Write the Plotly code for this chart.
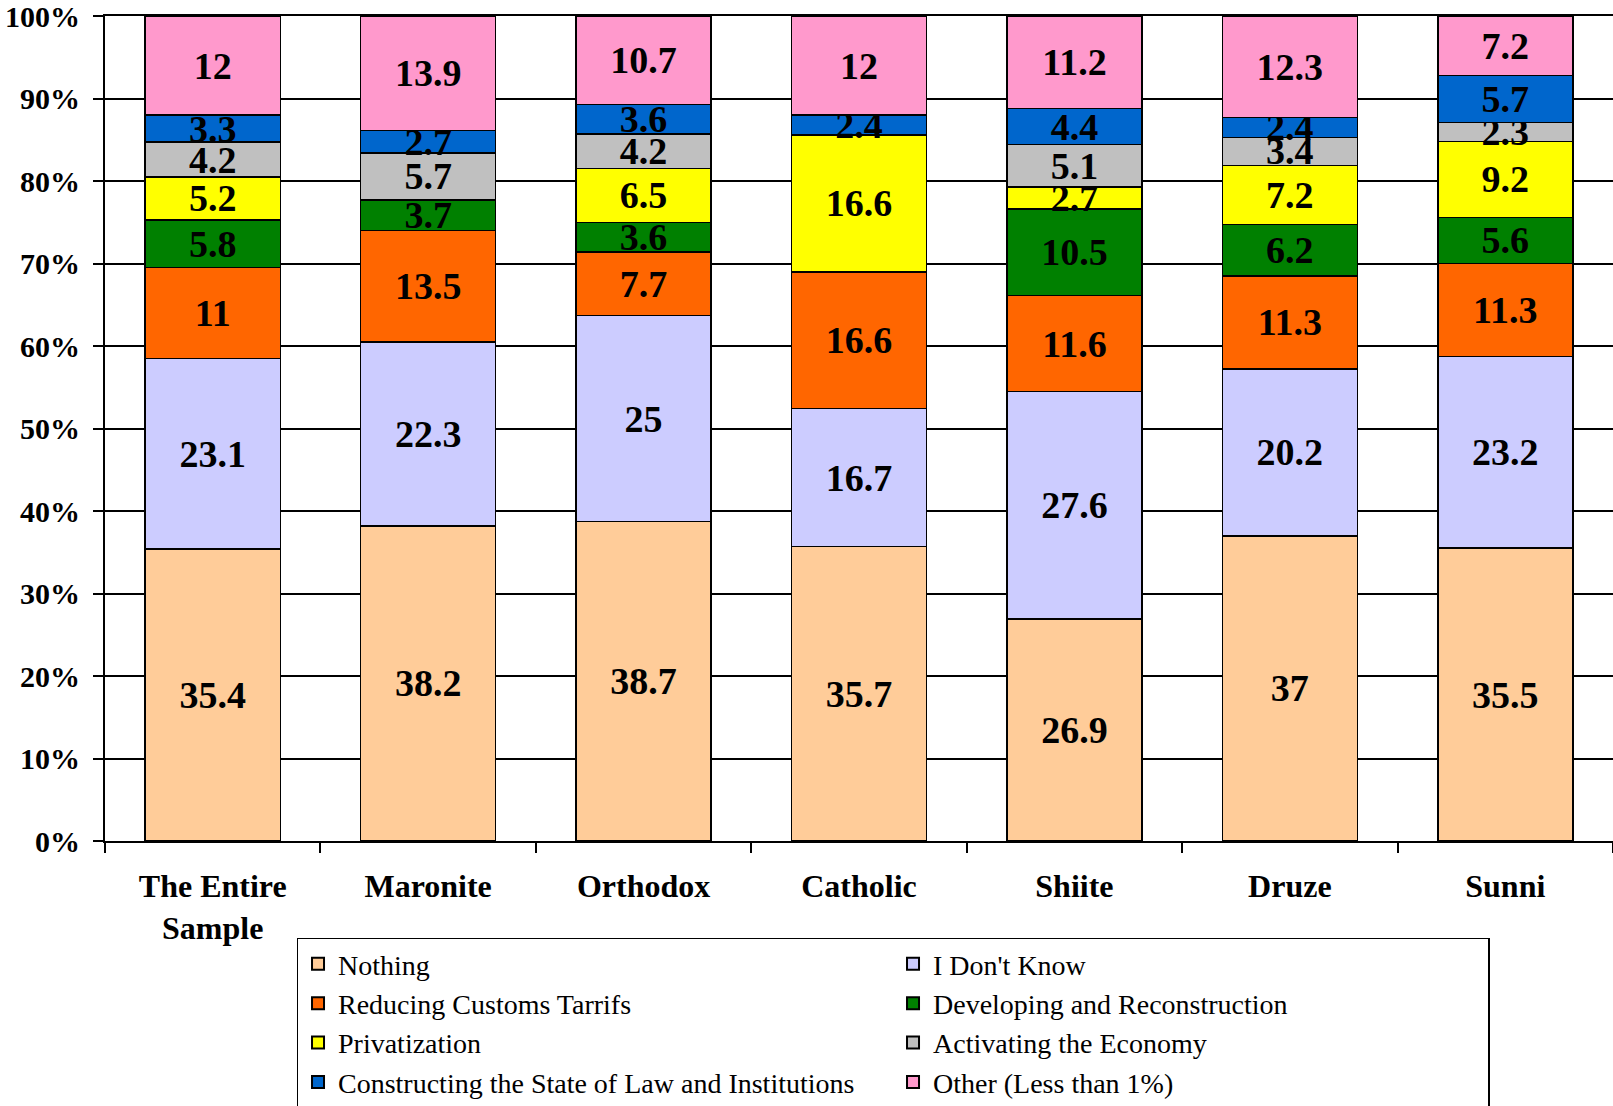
import plotly.graph_objects as go

categories = ["The Entire<br>Sample", "Maronite", "Orthodox", "Catholic", "Shiite", "Druze", "Sunni"]

series_names = [
    "Nothing",
    "I Don't Know",
    "Reducing Customs Tarrifs",
    "Developing and Reconstruction",
    "Privatization",
    "Activating the Economy",
    "Constructing the State of Law and Institutions",
    "Other (Less than 1%)",
]

nothing = [35.4, 38.2, 38.7, 35.7, 26.9, 37, 35.5]
dont_know = [23.1, 22.3, 25, 16.7, 27.6, 20.2, 23.2]
reducing_customs = [11, 13.5, 7.7, 16.6, 11.6, 11.3, 11.3]
developing = [5.8, 3.7, 3.6, 0, 10.5, 6.2, 5.6]
privatization = [5.2, 0, 6.5, 16.6, 2.7, 7.2, 9.2]
activating = [4.2, 5.7, 4.2, 0, 5.1, 3.4, 2.3]
constructing = [3.3, 2.7, 3.6, 2.4, 4.4, 2.4, 5.7]
other = [12, 13.9, 10.7, 12, 11.2, 12.3, 7.2]

series_values = [nothing, dont_know, reducing_customs, developing,
                 privatization, activating, constructing, other]

colors = ["#FFCC99", "#CCCCFF", "#FF6600", "#008000",
          "#FFFF00", "#C0C0C0", "#0066CC", "#FF99CC"]

y_ticks = [0, 10, 20, 30, 40, 50, 60, 70, 80, 90, 100]
y_tick_labels = [f"{t}%" for t in y_ticks]

SERIF = "Liberation Serif, Times New Roman, serif"

fig = go.Figure()
for name, vals, col in zip(series_names, series_values, colors):
    fig.add_trace(go.Bar(
        name=name,
        x=categories,
        y=vals,
        marker=dict(color=col, line=dict(color="black", width=1.5)),
        text=[f"{v:g}" if v else "" for v in vals],
        textposition="inside",
        insidetextanchor="middle",
        textangle=0,
        textfont=dict(family=SERIF, size=38, color="black", weight="bold"),
        hoverinfo="skip",
    ))

fig.update_layout(
    barmode="stack",
    bargap=0.373,
    width=1613,
    height=1106,
    margin=dict(l=105, r=0, t=16, b=265, autoexpand=False),
    paper_bgcolor="white",
    plot_bgcolor="white",
    uniformtext=dict(minsize=38, mode="show"),
    showlegend=True,
    legend=dict(
        orientation="h",
        x=0.127, xanchor="left",
        y=-0.117, yanchor="top",
        bordercolor="black", borderwidth=1.5,
        bgcolor="white",
        font=dict(family=SERIF, size=28, color="black"),
        entrywidth=550,
        traceorder="normal",
        itemsizing="constant",
        tracegroupgap=0,
    ),
    xaxis=dict(
        showline=True, linecolor="black", linewidth=2, mirror=True,
        ticks="outside", tickson="boundaries", ticklen=10, tickwidth=2, tickcolor="black",
        tickfont=dict(family=SERIF, size=32, color="black", weight="bold"),
        ticklabelstandoff=16,
        showgrid=False,
        automargin=False,
    ),
    yaxis=dict(
        range=[0, 100],
        tickvals=y_ticks,
        ticktext=y_tick_labels,
        showline=True, linecolor="black", linewidth=2,
        ticks="outside", ticklen=10, tickwidth=2, tickcolor="black",
        tickfont=dict(family=SERIF, size=30, color="black", weight="bold"),
        ticklabelstandoff=7,
        ticklabeloverflow="allow",
        showgrid=True, gridcolor="black", gridwidth=1.5,
        zeroline=False,
        automargin=False,
    ),
)

# remove the page's default body margin so the figure fills the window exactly
fig.write_html(
    "out.html",
    config={"displayModeBar": False},
    post_script="document.body.style.margin='0';document.body.style.overflow='hidden';",
)
